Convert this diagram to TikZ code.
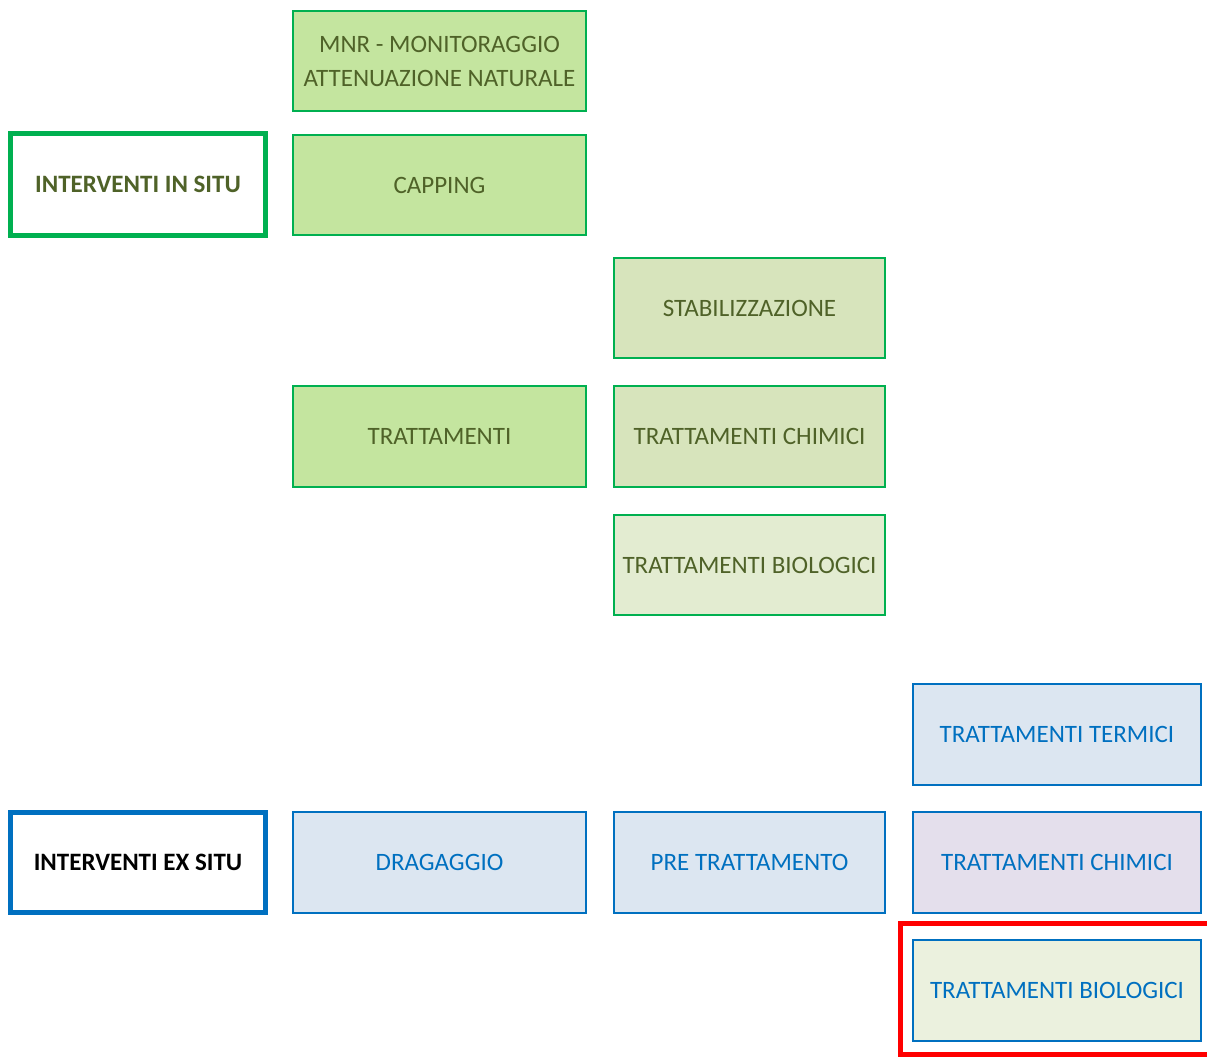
\documentclass[tikz,border=0pt]{standalone}
\usepackage{fontspec}
\setmainfont{Carlito}
\definecolor{gborder}{HTML}{00B050}
\definecolor{gtext}{HTML}{4F6228}
\definecolor{gfillA}{HTML}{C4E59F}
\definecolor{gfillB}{HTML}{D7E4BC}
\definecolor{gfillC}{HTML}{E3ECD1}
\definecolor{bborder}{HTML}{0070C0}
\definecolor{btext}{HTML}{0070C0}
\definecolor{bfill}{HTML}{DCE6F1}
\definecolor{pfill}{HTML}{E4DFEC}
\definecolor{lgfill}{HTML}{EBF1DE}
\definecolor{redbox}{HTML}{FF0000}
\tikzset{
  txt/.style={font=\fontsize{25}{34}\selectfont, align=center, inner sep=0pt},
  gbox/.style={txt, draw=gborder, line width=2pt, text=gtext, minimum height=100pt},
  bbox/.style={txt, draw=bborder, line width=2pt, text=btext, fill=bfill, minimum height=101pt},
  colA/.style={minimum width=293pt},
  colB/.style={minimum width=271pt},
  colC/.style={minimum width=288pt},
  headbox/.style={txt, font=\fontsize{25}{30}\selectfont\bfseries, line width=5pt, fill=white, minimum width=255pt},
}
\begin{document}
\begin{tikzpicture}[x=1pt,y=-1pt]
\clip (0,0) rectangle (1207,1057);
\fill[white] (0,0) rectangle (1207,1057);
% in situ
\node[headbox, draw=gborder, text=gtext, minimum height=102pt] (insitu) at (138,184.5) {INTERVENTI IN SITU};
\node[gbox, colA, fill=gfillA] (mnr) at (439.5,61) {MNR - MONITORAGGIO\\ATTENUAZIONE NATURALE};
\node[gbox, colA, fill=gfillA] (capping) at (439.5,185) {CAPPING};
\node[gbox, colB, fill=gfillB] (stab) at (749.5,308) {STABILIZZAZIONE};
\node[gbox, colA, fill=gfillA, minimum height=101pt] (tratt) at (439.5,436.5) {TRATTAMENTI};
\node[gbox, colB, fill=gfillB, minimum height=101pt] (chim) at (749.5,436.5) {TRATTAMENTI CHIMICI};
\node[gbox, colB, fill=gfillC] (bio) at (749.5,565) {TRATTAMENTI BIOLOGICI};
% ex situ
\node[headbox, draw=bborder, text=black, minimum height=100pt] (exsitu) at (138,862.5) {INTERVENTI EX SITU};
\node[bbox, colA] (drag) at (439.5,862.5) {DRAGAGGIO};
\node[bbox, colB] (pre) at (749.5,862.5) {PRE TRATTAMENTO};
\node[bbox, colC] (term) at (1057,734) {TRATTAMENTI TERMICI};
\node[bbox, colC, fill=pfill] (chimex) at (1057,862.5) {TRATTAMENTI CHIMICI};
\node[bbox, colC, fill=lgfill] (bioex) at (1057,990.5) {TRATTAMENTI BIOLOGICI};
\draw[redbox, line width=5pt] (900.5,923.5) rectangle (1212,1054.5);
\end{tikzpicture}
\end{document}
